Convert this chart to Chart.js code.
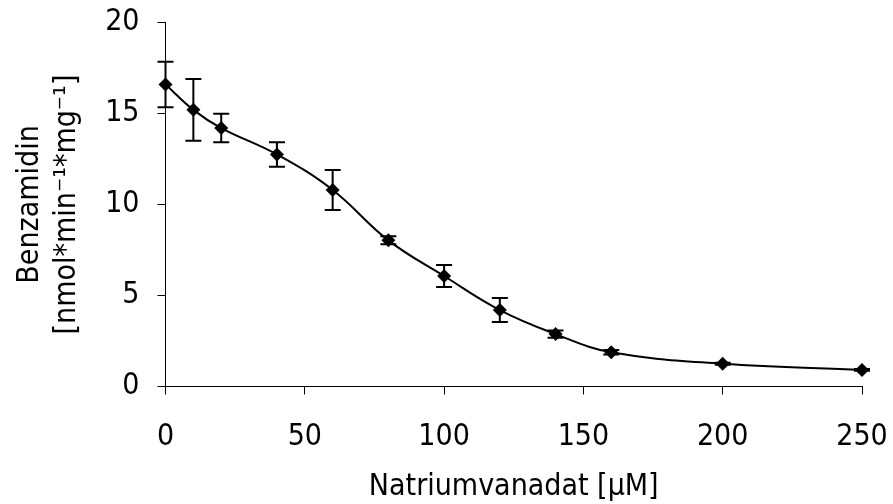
<!DOCTYPE html>
<html>
<head>
<meta charset="utf-8">
<script src="https://cdn.jsdelivr.net/npm/chart.js@4/dist/chart.umd.min.js"></script>
<style>
  html, body { margin: 0; padding: 0; background: #fff; }
  #wrap { width: 893px; height: 504px; }
</style>
</head>
<body>
<div id="wrap"><canvas id="chart" width="893" height="504"></canvas></div>
<script>
// Natriumvanadat concentration (µM) vs. benzamidin activity
const concentrations = [0, 10, 20, 40, 60, 80, 100, 120, 140, 160, 200, 250];
const activity = [16.6, 15.2, 14.2, 12.75, 10.8, 8.03, 6.07, 4.2, 2.88, 1.88, 1.25, 0.91];
const errors = [1.25, 1.7, 0.78, 0.67, 1.1, 0.22, 0.6, 0.66, 0.2, 0.12, 0.06, 0.05];

const xTitle = 'Natriumvanadat [µM]';
const yTitle = ['Benzamidin', '[nmol*min⁻¹*mg⁻¹]'];

const FONT = '"DejaVu Sans Condensed", "DejaVu Sans", sans-serif';

// draws vertical error bars with caps under the line/markers
const errorBars = {
  id: 'errorBars',
  beforeDatasetsDraw(chart) {
    const ctx = chart.ctx
    const xs = chart.scales.x
    const ys = chart.scales.y
    ctx.save()
    ctx.strokeStyle = '#000'
    ctx.lineWidth = 2
    concentrations.forEach((c, i) => {
      const px = xs.getPixelForValue(c)
      const top = ys.getPixelForValue(activity[i] + errors[i])
      const bot = ys.getPixelForValue(activity[i] - errors[i])
      ctx.beginPath()
      ctx.moveTo(px, top); ctx.lineTo(px, bot)
      ctx.moveTo(px - 8, top); ctx.lineTo(px + 8, top)
      ctx.moveTo(px - 8, bot); ctx.lineTo(px + 8, bot)
      ctx.stroke()
    })
    ctx.restore()
  }
}

const points = concentrations.map((c, i) => ({ x: c, y: activity[i] }))

new Chart(document.getElementById('chart'), {
  type: 'line',
  data: {
    datasets: [{
      data: points,
      borderColor: '#000',
      borderWidth: 2,
      backgroundColor: '#000',
      pointStyle: 'rectRot',
      pointRadius: 7,
      pointBorderWidth: 0,
      tension: 0.4,
      clip: false
    }]
  },
  plugins: [errorBars],
  options: {
    responsive: false,
    animation: false,
    layout: { padding: { top: 22.5, right: 31, left: 0, bottom: 0 } },
    plugins: { legend: { display: false }, tooltip: { enabled: false } },
    scales: {
      x: {
        type: 'linear',
        min: 0, max: 250,
        afterFit: (s) => { s.height = 117.5; s.paddingLeft = 0; s.paddingRight = 0 },
        border: { color: '#000', width: 1 },
        grid: { drawOnChartArea: false, color: '#000', tickLength: 8 },
        ticks: { stepSize: 50, color: '#000', padding: 25, maxRotation: 0, font: { family: FONT, size: 30 } },
        title: { display: true, text: xTitle, color: '#000', padding: { top: 0, bottom: 0 }, font: { family: FONT, size: 30, lineHeight: 1.1 } }
      },
      y: {
        min: 0, max: 20,
        afterFit: (s) => { s.width = 165.5; s.paddingTop = 0; s.paddingBottom = 0 },
        border: { color: '#000', width: 1 },
        grid: { drawOnChartArea: false, color: '#000', tickLength: 8 },
        ticks: { stepSize: 5, color: '#000', padding: 18, font: { family: FONT, size: 30 } },
        title: { display: true, text: yTitle, color: '#000', padding: { top: 11, bottom: 0 }, font: { family: FONT, size: 30, lineHeight: 1.25 } }
      }
    }
  }
});
</script>
</body>
</html>
